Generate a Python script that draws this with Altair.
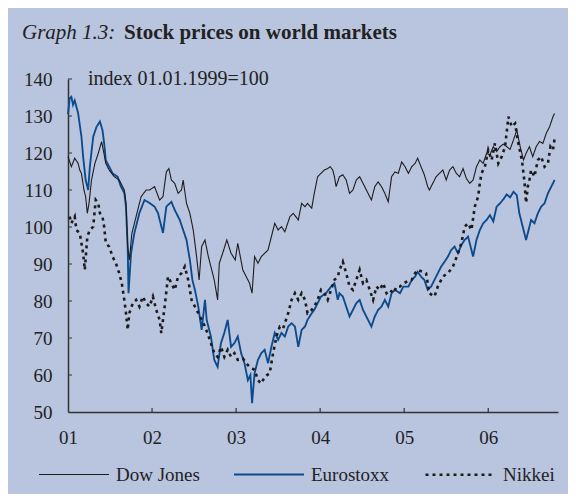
import altair as alt
import pandas as pd

# ---------------- data ----------------
series_names = ["Dow Jones", "Eurostoxx", "Nikkei"]

# (years since 1 Jan 2001, index 01.01.1999=100)
dow_jones = [(0.00,119.0),(0.04,116.3),(0.08,118.6),(0.12,117.2),(0.14,115.4),(0.16,114.5),(0.19,110.0),(0.21,108.2),(0.23,103.7),(0.25,106.4),(0.28,112.7),(0.32,117.2),(0.36,119.9),(0.40,123.1),(0.42,120.8),(0.45,117.2),(0.49,115.4),(0.55,113.6),(0.61,112.7),(0.67,110.0),(0.69,106.4),(0.71,94.7),(0.73,91.1),(0.76,98.3),(0.81,102.8),(0.87,108.2),(0.93,110.0),(0.97,110.0),(1.03,110.9),(1.09,107.3),(1.13,108.2),(1.17,114.9),(1.20,115.8),(1.23,112.7),(1.27,111.8),(1.31,109.1),(1.35,110.0),(1.37,112.7),(1.41,106.4),(1.45,103.7),(1.49,99.2),(1.53,92.0),(1.56,85.7),(1.59,94.7),(1.63,96.5),(1.67,92.0),(1.70,89.3),(1.74,85.7),(1.78,80.3),(1.80,90.2),(1.84,92.9),(1.89,96.5),(1.94,92.9),(1.99,91.1),(2.02,95.6),(2.08,88.4),(2.12,86.6),(2.16,84.8),(2.19,82.1),(2.22,92.0),(2.26,90.2),(2.30,92.0),(2.34,92.9),(2.38,93.8),(2.42,97.4),(2.46,101.0),(2.50,99.2),(2.54,100.1),(2.58,98.7),(2.64,102.8),(2.68,103.7),(2.74,101.9),(2.78,106.4),(2.82,105.5),(2.85,106.4),(2.90,105.1),(2.93,109.1),(2.97,113.6),(3.01,114.5),(3.05,115.4),(3.09,115.8),(3.12,116.3),(3.15,115.4),(3.17,113.6),(3.19,110.9),(3.23,113.6),(3.27,114.1),(3.31,112.7),(3.35,109.1),(3.39,110.0),(3.43,112.7),(3.47,113.6),(3.51,111.8),(3.55,110.0),(3.61,107.3),(3.65,110.9),(3.69,112.2),(3.73,110.9),(3.77,109.1),(3.81,106.8),(3.85,113.6),(3.89,114.9),(3.93,114.5),(3.97,117.6),(4.01,116.3),(4.05,114.5),(4.09,116.3),(4.13,117.2),(4.16,118.6),(4.20,116.3),(4.24,114.1),(4.28,110.9),(4.30,110.0),(4.34,111.8),(4.38,113.6),(4.42,114.5),(4.46,115.4),(4.50,112.7),(4.54,115.4),(4.58,116.3),(4.62,114.5),(4.66,113.6),(4.70,115.8),(4.74,113.1),(4.78,111.8),(4.82,112.7),(4.86,116.3),(4.90,118.1),(4.94,117.2),(4.98,119.9),(5.02,119.5),(5.06,121.7),(5.10,120.4),(5.14,121.7),(5.18,122.4),(5.22,121.7),(5.26,121.0),(5.30,123.5),(5.34,126.2),(5.38,121.7),(5.42,118.1),(5.45,119.9),(5.49,121.7),(5.53,119.0),(5.57,121.7),(5.61,123.1),(5.65,122.6),(5.69,125.3),(5.73,127.1),(5.77,129.8),(5.79,130.7)]

eurostoxx = [(0.00,130.5),(0.02,134.8),(0.04,135.2),(0.06,133.0),(0.08,134.2),(0.12,130.8),(0.16,124.4),(0.18,119.0),(0.21,112.7),(0.24,110.0),(0.26,116.3),(0.30,124.4),(0.34,127.1),(0.38,128.5),(0.41,126.2),(0.43,122.7),(0.45,118.0),(0.49,116.3),(0.53,114.5),(0.59,113.6),(0.63,110.9),(0.67,109.2),(0.69,105.5),(0.71,94.7),(0.72,82.1),(0.75,92.9),(0.79,98.4),(0.85,103.8),(0.91,107.3),(0.97,106.5),(1.03,105.5),(1.07,103.8),(1.13,98.4),(1.17,105.5),(1.23,106.8),(1.27,104.6),(1.33,101.9),(1.37,99.2),(1.41,96.5),(1.45,91.1),(1.48,85.7),(1.51,83.0),(1.55,78.5),(1.59,72.2),(1.63,80.3),(1.65,74.9),(1.70,70.4),(1.74,64.1),(1.78,62.2),(1.82,68.6),(1.86,71.4),(1.90,74.9),(1.94,67.6),(1.98,68.6),(2.02,70.4),(2.06,65.9),(2.10,63.2),(2.14,58.6),(2.17,60.0),(2.19,52.4),(2.22,60.5),(2.26,64.1),(2.30,65.9),(2.34,66.8),(2.38,63.2),(2.42,67.6),(2.46,71.4),(2.50,69.5),(2.54,71.4),(2.58,70.4),(2.62,73.1),(2.66,74.0),(2.70,73.1),(2.74,67.6),(2.78,72.2),(2.82,73.1),(2.85,74.9),(2.90,76.7),(2.93,77.6),(2.97,79.4),(3.01,81.2),(3.07,82.1),(3.13,83.9),(3.17,84.8),(3.21,80.3),(3.23,82.1),(3.27,81.2),(3.31,78.5),(3.35,75.8),(3.39,77.6),(3.43,79.4),(3.47,80.3),(3.51,77.6),(3.55,75.8),(3.59,74.0),(3.61,73.1),(3.65,75.8),(3.69,77.6),(3.73,78.5),(3.77,80.3),(3.81,78.5),(3.85,82.1),(3.89,83.0),(3.95,82.1),(3.99,83.9),(4.05,83.9),(4.09,85.7),(4.13,86.6),(4.16,87.9),(4.20,86.6),(4.24,85.7),(4.28,83.0),(4.32,83.9),(4.36,85.7),(4.40,87.5),(4.44,89.3),(4.48,90.6),(4.52,92.0),(4.56,93.8),(4.60,94.7),(4.64,92.9),(4.68,95.1),(4.72,96.5),(4.76,97.4),(4.82,92.0),(4.86,96.5),(4.90,99.2),(4.94,101.0),(4.98,101.9),(5.02,103.2),(5.06,101.5),(5.10,105.5),(5.14,106.4),(5.18,107.5),(5.22,108.8),(5.26,108.0),(5.30,109.5),(5.34,108.6),(5.37,103.7),(5.40,101.0),(5.43,98.3),(5.45,96.5),(5.49,100.1),(5.51,101.9),(5.55,101.0),(5.59,103.7),(5.63,105.5),(5.67,106.4),(5.71,109.1),(5.75,110.9),(5.79,112.7)]

nikkei = [(0.02,102.8),(0.04,101.0),(0.08,102.8),(0.10,99.2),(0.14,98.3),(0.18,92.9),(0.20,88.4),(0.23,97.4),(0.26,99.2),(0.30,100.1),(0.33,107.3),(0.36,106.4),(0.38,103.7),(0.41,102.8),(0.43,100.1),(0.45,95.6),(0.49,94.7),(0.53,92.0),(0.57,90.2),(0.61,87.5),(0.64,84.8),(0.67,80.3),(0.69,76.7),(0.71,72.2),(0.73,76.7),(0.77,79.4),(0.81,80.3),(0.85,78.5),(0.89,81.2),(0.93,79.4),(0.97,78.5),(1.01,81.2),(1.05,77.6),(1.09,74.9),(1.11,71.3),(1.15,78.5),(1.19,86.6),(1.23,84.8),(1.27,83.0),(1.31,86.6),(1.35,87.5),(1.39,89.3),(1.43,85.7),(1.47,80.3),(1.51,78.5),(1.55,76.7),(1.59,74.9),(1.63,73.1),(1.66,71.3),(1.70,68.6),(1.74,65.9),(1.78,64.9),(1.82,67.6),(1.86,64.9),(1.90,66.8),(1.94,64.9),(1.98,65.9),(2.02,64.1),(2.08,64.5),(2.12,63.2),(2.16,62.2),(2.22,61.4),(2.26,58.6),(2.30,57.7),(2.34,59.5),(2.40,60.5),(2.44,65.9),(2.48,70.4),(2.52,73.1),(2.56,72.6),(2.62,76.7),(2.66,80.3),(2.70,82.1),(2.74,80.3),(2.78,82.1),(2.82,80.3),(2.85,76.7),(2.90,77.6),(2.93,78.5),(2.97,80.3),(3.01,83.0),(3.05,82.1),(3.09,80.3),(3.13,83.0),(3.17,85.7),(3.21,86.6),(3.23,88.4),(3.27,90.6),(3.31,87.5),(3.35,83.9),(3.39,83.0),(3.43,85.7),(3.47,88.4),(3.51,84.8),(3.55,85.7),(3.59,83.0),(3.63,80.3),(3.67,83.9),(3.71,83.0),(3.75,84.8),(3.79,82.1),(3.83,83.0),(3.87,82.1),(3.91,83.9),(3.95,83.9),(3.99,84.8),(4.03,85.2),(4.09,85.7),(4.13,87.5),(4.16,88.4),(4.22,87.9),(4.26,87.5),(4.30,82.1),(4.36,81.2),(4.40,83.9),(4.46,86.6),(4.52,87.5),(4.58,89.3),(4.64,92.9),(4.68,95.6),(4.72,100.1),(4.76,101.0),(4.80,99.2),(4.84,105.5),(4.88,108.2),(4.90,111.8),(4.92,114.5),(4.96,116.3),(5.00,120.8),(5.04,118.1),(5.08,122.6),(5.12,117.2),(5.16,119.0),(5.20,121.7),(5.24,129.8),(5.28,127.1),(5.32,128.0),(5.35,123.5),(5.40,118.1),(5.43,112.5),(5.45,106.5),(5.47,110.9),(5.49,112.7),(5.51,115.4),(5.55,113.6),(5.59,118.1),(5.63,119.0),(5.67,116.3),(5.71,117.2),(5.74,121.7),(5.77,120.8),(5.79,123.9)]

x_tick_years = [2001, 2002, 2003, 2004, 2005, 2006]
y_tick_values = [50, 60, 70, 80, 90, 100, 110, 120, 130, 140]

title_prefix = "Graph 1.3:"
title_main = "Stock prices on world markets"
unit_note = "index 01.01.1999=100"

# ---------------- build table ----------------
rows = []
for name, pairs in zip(series_names, [dow_jones, eurostoxx, nikkei]):
    for t, v in pairs:
        rows.append({"year": 2001 + t, "value": v, "series": name})
df = pd.DataFrame(rows)

FONT = "Liberation Serif"
BG = "#b9c4de"
INK = "#222222"

x_scale = alt.Scale(domain=[2001, 2006.83], nice=False, zero=False)
y_scale = alt.Scale(domain=[50, 140], nice=False, zero=False)

x_axis = alt.Axis(values=x_tick_years, labelExpr="'0' + (datum.value - 2000)",
                  grid=False, ticks=False, tickSize=0, domainColor="#333333",
                  domainWidth=1.5, labelFont=FONT, labelFontSize=19,
                  labelColor=INK, labelPadding=16, labelFlush=False, title=None)
y_axis = alt.Axis(values=y_tick_values, grid=False, ticks=False, tickSize=0,
                  domainColor="#333333", domainWidth=1.5, labelFont=FONT,
                  labelFontSize=19, labelColor=INK, labelPadding=16,
                  labelFlush=False, title=None)

color_scale = alt.Scale(domain=series_names, range=["#1c1c1c", "#0b4a8b", "#1c1c1c"])
dash_scale = alt.Scale(domain=series_names, range=[[1, 0], [1, 0], [3, 4]])
width_scale = alt.Scale(domain=series_names, range=[1.1, 2.6, 1.2])

legend = alt.Legend(title=None, orient="none", legendX=-30, legendY=359,
                    direction="horizontal", symbolType="stroke", symbolSize=4900,
                    labelFont=FONT, labelFontSize=19, labelColor=INK,
                    columnPadding=30, labelOffset=6, padding=0)


def line_layer(name):
    return alt.Chart(df).transform_filter(alt.datum.series == name).mark_line().encode(
        x=alt.X("year:Q", scale=x_scale, axis=x_axis),
        y=alt.Y("value:Q", scale=y_scale, axis=y_axis),
        color=alt.Color("series:N", scale=color_scale, legend=legend),
        strokeDash=alt.StrokeDash("series:N", scale=dash_scale, legend=legend),
        strokeWidth=alt.StrokeWidth("series:N", scale=width_scale, legend=legend),
    )


x_ticks = alt.Chart(pd.DataFrame({"year": x_tick_years[1:]})).mark_rule(
    color="#333333", strokeWidth=1.2).encode(
    x=alt.X("year:Q", scale=x_scale, axis=x_axis),
    y=alt.value(329), y2=alt.value(333))

y_ticks = alt.Chart(pd.DataFrame({"v": y_tick_values[1:]})).mark_rule(
    color="#333333", strokeWidth=1.0).encode(
    y=alt.Y("v:Q", scale=y_scale, axis=y_axis),
    x=alt.value(0), x2=alt.value(4))

t1 = alt.Chart(pd.DataFrame({"t": [title_prefix]})).mark_text(
    font=FONT, fontSize=21, fontStyle="italic", align="left", baseline="alphabetic",
    color=INK).encode(text="t:N", x=alt.value(-46), y=alt.value(-40))
t2 = alt.Chart(pd.DataFrame({"t": [title_main]})).mark_text(
    font=FONT, fontSize=21, fontWeight="bold", align="left", baseline="alphabetic",
    color=INK).encode(text="t:N", x=alt.value(56), y=alt.value(-40))
t3 = alt.Chart(pd.DataFrame({"t": [unit_note]})).mark_text(
    font=FONT, fontSize=20, align="left", baseline="middle",
    color=INK).encode(text="t:N", x=alt.value(20), y=alt.value(0))

chart = alt.layer(
    line_layer("Eurostoxx"), line_layer("Dow Jones"), line_layer("Nikkei"),
    x_ticks, y_ticks, t1, t2, t3
).properties(
    width=490, height=333,
    autosize=alt.AutoSizeParams(type="none"),
    padding={"left": 60, "top": 71, "right": 10, "bottom": 82},
    background=BG,
).configure_view(stroke=None)

chart.save("out.html", embed_options={"renderer": "svg", "actions": False})
